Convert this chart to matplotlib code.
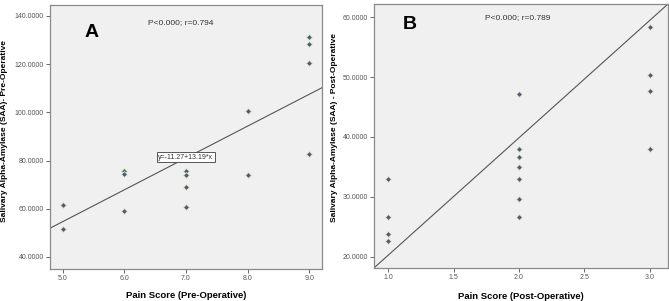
import matplotlib
matplotlib.use("Agg")
import matplotlib.pyplot as plt
import matplotlib.ticker as mticker
import numpy as np

plt.rcParams["font.family"] = ["Liberation Sans", "DejaVu Sans"]

# Panel A - pre-operative
pain_pre = [5, 5, 6, 6, 6, 7, 7, 7, 7, 8, 8, 9, 9, 9, 9]
saa_pre = [61.5, 51.6, 75.7, 74.6, 59.0, 75.5, 74.2, 69.0, 60.6, 100.6, 74.2, 131.2, 128.3, 120.4, 82.6]
fit_pre = (-11.27, 13.19)

# Panel B - post-operative
pain_post = [1, 1, 1, 1, 2, 2, 2, 2, 2, 2, 2, 3, 3, 3, 3]
saa_post = [33.0, 26.6, 23.8, 22.6, 47.2, 38.0, 36.6, 35.0, 33.0, 29.7, 26.6, 58.4, 50.3, 47.6, 38.0]
fit_post = (0.66, 19.6)

bg = "#f0f0f0"
dot = "#3d5a96"
edge = "#ece8a8"

fig = plt.figure(figsize=(6.69, 3.01), dpi=100)
axA = fig.add_axes([0.0747, 0.1063, 0.4066, 0.877])
axB = fig.add_axes([0.559, 0.1096, 0.4395, 0.877])


def style(ax):
    ax.set_facecolor(bg)
    for s in ax.spines.values():
        s.set_color("#8a8a8a")
        s.set_linewidth(0.9)
    ax.tick_params(labelsize=5, labelcolor="#555555", color="#666666",
                   length=3, width=0.7, pad=1.5)
    ax.yaxis.set_major_formatter(mticker.FormatStrFormatter("%.4f"))
    ax.xaxis.set_major_formatter(mticker.FormatStrFormatter("%.1f"))


# A
style(axA)
axA.set_xlim(4.79, 9.21)
axA.set_ylim(35, 144.5)
axA.set_xticks([5, 6, 7, 8, 9])
axA.set_yticks([40, 60, 80, 100, 120, 140])
xs = np.array(axA.get_xlim())
axA.plot(xs, fit_pre[0] + fit_pre[1] * xs, color="#555555", lw=0.8, zorder=2)
axA.scatter(pain_pre, saa_pre, marker="D", s=9, c=dot, edgecolors=edge,
            linewidths=0.6, zorder=3)
axA.text(7.0, 81.4, "y=-11.27+13.19*x", fontsize=5, ha="center", va="center",
         color="#333333", zorder=4,
         bbox=dict(boxstyle="square,pad=0.25", fc="white", ec="#555555", lw=0.7))
axA.text(6.92, 137.2, "P<0.000; r=0.794", fontsize=6, ha="center", va="center",
         color="#333333")
axA.text(5.46, 133, "A", fontsize=14, fontweight="bold", ha="center", va="center")
axA.set_xlabel("Pain Score (Pre-Operative)", fontsize=6.8, fontweight="bold")
axA.set_ylabel("Salivary Alpha-Amylase (SAA)- Pre-Operative", fontsize=6,
               fontweight="bold")
axA.xaxis.set_label_coords(0.5, -0.085)
axA.yaxis.set_label_coords(-0.156, 0.523)

# B
style(axB)
axB.set_xlim(0.89, 3.14)
axB.set_ylim(18.1, 62.2)
axB.set_xticks([1.0, 1.5, 2.0, 2.5, 3.0])
axB.set_yticks([20, 30, 40, 50, 60])
xs = np.array(axB.get_xlim())
axB.plot(xs, fit_post[0] + fit_post[1] * xs, color="#555555", lw=0.8, zorder=2)
axB.scatter(pain_post, saa_post, marker="D", s=9, c=dot, edgecolors=edge,
            linewidths=0.6, zorder=3)
axB.text(1.99, 60.0, "P<0.000; r=0.789", fontsize=6, ha="center", va="center",
         color="#333333")
axB.text(1.16, 58.8, "B", fontsize=14, fontweight="bold", ha="center", va="center")
axB.set_xlabel("Pain Score (Post-Operative)", fontsize=6.8, fontweight="bold")
axB.set_ylabel("Salivary Alpha-Amylase (SAA) - Post-Operative", fontsize=6,
               fontweight="bold")
axB.xaxis.set_label_coords(0.5, -0.09)
axB.yaxis.set_label_coords(-0.124, 0.534)

fig.savefig("out.png", dpi=100)
